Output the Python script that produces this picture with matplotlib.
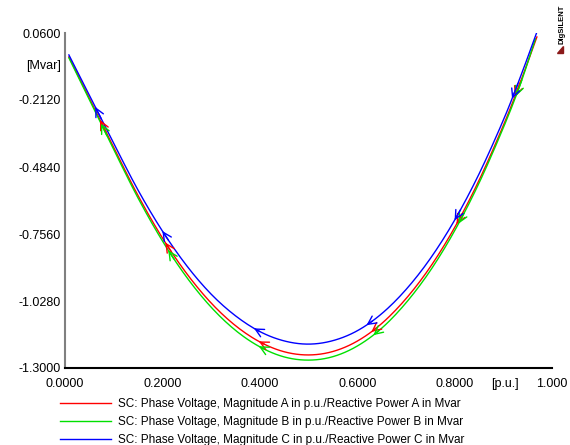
import matplotlib
matplotlib.use("Agg")
import matplotlib.pyplot as plt
import matplotlib.patches as mpatches
import matplotlib.transforms as mtransforms
import numpy as np

plt.rcParams['font.family'] = ['Liberation Sans', 'DejaVu Sans']

# Phase voltage magnitude [p.u.] (x) and reactive power [Mvar] (y)
xa = [0.008, 0.05, 0.10, 0.15, 0.20, 0.25, 0.30, 0.35, 0.40, 0.45, 0.50,
      0.55, 0.60, 0.65, 0.70, 0.75, 0.80, 0.85, 0.90, 0.935, 0.969]
ya = [-0.037, -0.205, -0.405, -0.600, -0.772, -0.917, -1.036, -1.128, -1.194, -1.234, -1.247,
      -1.233, -1.191, -1.120, -1.019, -0.890, -0.730, -0.539, -0.316, -0.140, 0.044]

xb = [0.008, 0.05, 0.10, 0.15, 0.20, 0.25, 0.30, 0.35, 0.40, 0.45, 0.50,
      0.55, 0.60, 0.65, 0.70, 0.75, 0.80, 0.85, 0.90, 0.935, 0.966]
yb = [-0.041, -0.211, -0.413, -0.610, -0.784, -0.932, -1.053, -1.147, -1.214, -1.255, -1.268,
      -1.254, -1.211, -1.139, -1.036, -0.905, -0.743, -0.550, -0.325, -0.148, 0.036]

xc = [0.008, 0.05, 0.10, 0.15, 0.20, 0.25, 0.30, 0.35, 0.40, 0.45, 0.50,
      0.55, 0.60, 0.65, 0.70, 0.75, 0.80, 0.85, 0.90, 0.935, 0.969]
yc = [-0.029, -0.193, -0.388, -0.578, -0.744, -0.885, -1.000, -1.088, -1.152, -1.190, -1.203,
      -1.189, -1.149, -1.080, -0.982, -0.856, -0.700, -0.513, -0.294, -0.119, 0.064]

# arrow positions (x in p.u.) along each trace
arrows_a = [0.072, 0.206, 0.398, 0.629, 0.804, 0.924]
arrows_b = [0.074, 0.212, 0.398, 0.633, 0.808, 0.926]
arrows_c = [0.062, 0.200, 0.388, 0.619, 0.800, 0.918]

labels = [
    "SC: Phase Voltage, Magnitude A in p.u./Reactive Power A in Mvar",
    "SC: Phase Voltage, Magnitude B in p.u./Reactive Power B in Mvar",
    "SC: Phase Voltage, Magnitude C in p.u./Reactive Power C in Mvar",
]
colors = ["#ff0000", "#00e000", "#0000ff"]

yticks = [0.06, -0.212, -0.484, -0.756, -1.028, -1.30]
yticklabels = ["0.0600", "-0.2120", "-0.4840", "-0.7560", "-1.0280", "-1.3000"]
xticks = [0.0, 0.2, 0.4, 0.6, 0.8, 1.0]
xticklabels = ["0.0000", "0.2000", "0.4000", "0.6000", "0.8000", "1.000"]


def smooth_path(xs, ys, n=12):
    """Catmull-Rom rendering through the read points (draws a smooth line)."""
    p = np.column_stack([xs, ys])
    p = np.vstack([2 * p[0] - p[1], p, 2 * p[-1] - p[-2]])
    out = []
    t = np.linspace(0, 1, n, endpoint=False)[:, None]
    for i in range(1, len(p) - 2):
        p0, p1, p2, p3 = p[i - 1], p[i], p[i + 1], p[i + 2]
        seg = 0.5 * ((2 * p1) + (-p0 + p2) * t + (2 * p0 - 5 * p1 + 4 * p2 - p3) * t ** 2
                     + (-p0 + 3 * p1 - 3 * p2 + p3) * t ** 3)
        out.append(seg)
    out.append(p[-2][None, :])
    out = np.vstack(out)
    return out[:, 0], out[:, 1]


fig = plt.figure(figsize=(5.7, 4.45), dpi=100)
ax = fig.add_axes([65/570, 1-368/445, (552-65)/570, (368-33)/445])

series = [(xa, ya, arrows_a), (xb, yb, arrows_b), (xc, yc, arrows_c)]
handles = []
for (xs, ys, arr), col, lab in zip(series, colors, labels):
    sx, sy = smooth_path(xs, ys)
    h, = ax.plot(sx, sy, color=col, lw=1.0, label=lab)
    handles.append(h)
    for xp in arr:
        y0 = np.interp(xp, sx, sy)
        x1 = xp + 0.012
        y1 = np.interp(x1, sx, sy)
        ax.annotate("", xy=(xp, y0), xytext=(x1, y1),
                    arrowprops=dict(arrowstyle="->,head_length=0.6,head_width=0.3",
                                    color=col, lw=1.0, shrinkA=0, shrinkB=0,
                                    mutation_scale=10))

ax.set_xlim(0, 1.0)
ax.set_ylim(-1.30, 0.06)
ax.set_yticks(yticks)
ax.set_yticklabels(yticklabels)
ax.set_xticks(xticks)
ax.set_xticklabels(xticklabels)
ax.tick_params(axis='both', length=0, labelsize=9)
ax.tick_params(axis='x', pad=7)
ax.tick_params(axis='y', pad=3)
for s in ['top', 'right']:
    ax.spines[s].set_visible(False)
ax.spines['left'].set_color('#808080')
ax.spines['left'].set_linewidth(1.5)
ax.spines['bottom'].set_color('black')
ax.spines['bottom'].set_linewidth(1.5)
ax.patch.set_visible(False)

# unit labels
ax.text(-0.008, -0.076, "[Mvar]", ha='right', va='center', fontsize=9, clip_on=False)
ax.text(0.903, -1.30, "[p.u.]", ha='center', va='top', fontsize=9, clip_on=False,
        transform=ax.transData + mtransforms.ScaledTranslation(0, -7/72, fig.dpi_scale_trans))

fig.legend(handles=handles, labels=labels, loc='upper left',
           bbox_to_anchor=(60/570, 1-398/445), frameon=False, fontsize=8.5,
           handlelength=4.3, handletextpad=0.6, labelspacing=0.52,
           borderaxespad=0, borderpad=0)

# DIgSILENT logo
fig.text(562/570, 1-44/445, "DIgSILENT", rotation=90, fontsize=5.5,
         fontweight='bold', ha='center', va='bottom', color='black')
fig.patches.append(mpatches.Polygon(
    [[557/570, 1-53/445], [563/570, 1-53/445], [563/570, 1-46/445]],
    closed=True, transform=fig.transFigure, color='#8b1a1a', figure=fig))

fig.savefig("out.png", dpi=100)
